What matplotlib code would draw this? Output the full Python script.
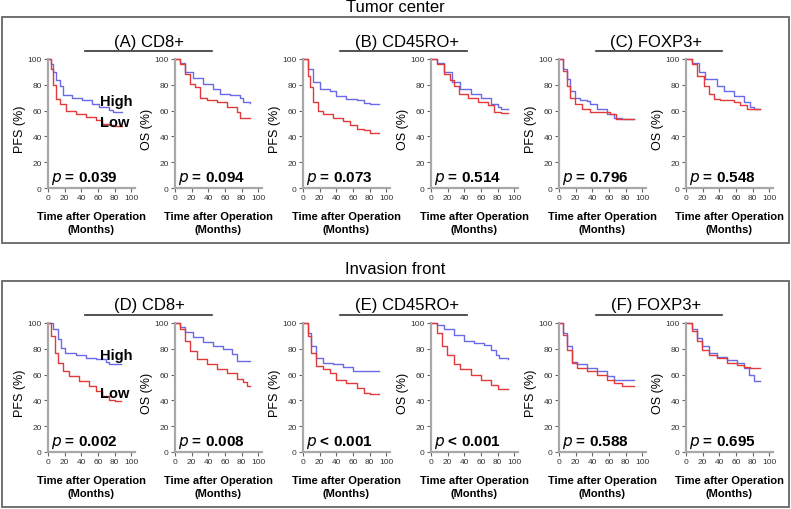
import matplotlib
matplotlib.use("Agg")
import matplotlib.pyplot as plt
from matplotlib.lines import Line2D
from matplotlib.patches import Rectangle

plt.rcParams['font.family'] = ['Liberation Sans', 'DejaVu Sans']

# Kaplan-Meier curves: (months, percent)
A_PFS_HIGH = [(0, 100), (3, 96), (6, 90), (10, 84), (14, 79), (18, 72), (29, 70), (41, 68), (53, 65), (61, 63), (73, 60.5), (78, 59), (89, 59)]
A_PFS_LOW = [(0, 100), (3, 92), (6, 80), (10, 69), (14, 65), (22, 60), (33, 57.5), (45, 55), (57, 53), (65, 50), (73, 48.5), (78, 47.7), (89, 47.7)]
A_OS_HIGH = [(0, 100), (6, 97), (12, 90), (22, 85), (34, 81), (46, 77), (54, 73), (66, 72), (78, 70), (82, 66.5), (90, 66)]
A_OS_LOW = [(0, 100), (6, 96), (12, 88.4), (18, 81), (24, 78), (30, 70), (38, 68), (50, 66.5), (62, 62.6), (74, 58.7), (78, 54.4), (90, 54.4)]

B_PFS_HIGH = [(0, 100), (6, 92), (12, 82), (20, 77), (32, 75), (40, 71.6), (52, 69), (65, 68), (73, 66), (80, 65), (91, 65)]
B_PFS_LOW = [(0, 100), (6, 87), (8, 78), (12, 66.5), (18, 60), (24, 57), (36, 54), (48, 52), (56, 48.5), (65, 46), (73, 44.6), (80, 43), (91, 43)]
B_OS_HIGH = [(0, 100), (7, 97), (15, 90), (25, 82), (35, 77), (48, 73), (60, 70), (72, 65), (80, 62.6), (84, 61), (92, 61)]
B_OS_LOW = [(0, 100), (7, 96), (15, 88), (23, 84), (27, 79), (33, 73), (44, 70), (56, 66.5), (68, 64), (76, 59), (84, 58), (92, 58)]

C_PFS_HIGH = [(0, 100), (5, 92), (9, 84.5), (13, 75.5), (19, 70), (25, 68.5), (33, 67.5), (37, 65), (45, 61), (57, 57), (66, 54.6), (75, 53.6), (90, 53.6)]
C_PFS_LOW = [(0, 100), (5, 91), (9, 79), (13, 70), (19, 65), (27, 61), (37, 58.8), (53, 58.8), (61, 57.5), (68, 53.6), (90, 53.6)]
C_OS_HIGH = [(0, 100), (7, 97), (15, 90), (23, 84.5), (31, 84.5), (37, 79), (45, 75.5), (57, 71.6), (69, 66.5), (77, 62.6), (81, 61), (89, 61)]
C_OS_LOW = [(0, 100), (7, 96), (13, 87), (21, 79), (27, 73), (33, 69), (41, 68), (57, 66.5), (65, 64), (73, 61), (89, 61)]

D_PFS_HIGH = [(0, 100), (6, 95), (12, 87.6), (16, 81), (20, 76.7), (33, 75), (45, 73), (57, 72), (69, 69.4), (73, 68), (88, 68)]
D_PFS_LOW = [(0, 100), (4, 90), (8, 77), (12, 69), (18, 63), (25, 59), (37, 55), (49, 51), (57, 47.4), (65, 43.5), (73, 40.4), (80, 39.6), (88, 39.6)]
D_OS_HIGH = [(0, 100), (6, 96.6), (12, 92.7), (22, 89), (34, 85), (46, 82), (58, 80), (68, 76), (74, 70.7), (90, 70.7)]
D_OS_LOW = [(0, 100), (6, 95), (12, 86), (18, 78.5), (26, 72), (38, 68), (50, 64), (62, 61), (74, 56.5), (82, 54), (86, 51), (90, 51)]

E_PFS_HIGH = [(0, 100), (6, 92), (10, 82), (16, 73), (24, 69), (36, 68), (48, 66), (60, 62.6), (91, 62.6)]
E_PFS_LOW = [(0, 100), (6, 90), (10, 77), (16, 66.5), (24, 64), (32, 61), (40, 56), (52, 53.6), (65, 50), (73, 46), (80, 44.6), (91, 44.6)]
E_OS_HIGH = [(0, 100), (7, 98.7), (15, 95), (27, 91), (40, 86), (52, 84.5), (64, 83), (72, 79), (78, 75.5), (82, 73), (92, 72)]
E_OS_LOW = [(0, 100), (7, 92), (13, 82), (19, 75.5), (27, 68), (35, 64), (48, 60), (60, 56), (72, 52), (80, 49), (92, 48.5)]

F_PFS_HIGH = [(0, 100), (5, 92), (9, 82), (15, 70), (21, 68), (33, 65), (45, 62.6), (57, 59), (66, 56), (90, 55.7)]
F_PFS_LOW = [(0, 100), (5, 91), (9, 79), (15, 69), (21, 65), (33, 62.6), (45, 60), (57, 56), (66, 53.6), (75, 51.5), (90, 51.5)]
F_OS_HIGH = [(0, 100), (7, 95), (13, 88), (19, 82), (27, 77), (37, 74), (49, 71.6), (61, 69), (69, 65), (75, 60), (81, 55), (89, 55)]
F_OS_LOW = [(0, 100), (7, 93.6), (13, 85.8), (19, 79), (27, 75.5), (37, 73), (49, 69), (61, 67.8), (69, 66), (77, 65), (89, 65)]

PANEL_TITLES = ["(A) CD8+", "(B) CD45RO+", "(C) FOXP3+", "(D) CD8+", "(E) CD45RO+", "(F) FOXP3+"]
SECTION_TITLES = ["Tumor center", "Invasion front"]
P_VALUES = [["p = 0.039", "p = 0.094", "p = 0.073", "p = 0.514", "p = 0.796", "p = 0.548"],
            ["p = 0.002", "p = 0.008", "p < 0.001", "p < 0.001", "p = 0.588", "p = 0.695"]]
Y_LABELS = ["PFS (%)", "OS (%)"]

curves = [[(A_PFS_HIGH, A_PFS_LOW), (A_OS_HIGH, A_OS_LOW), (B_PFS_HIGH, B_PFS_LOW),
           (B_OS_HIGH, B_OS_LOW), (C_PFS_HIGH, C_PFS_LOW), (C_OS_HIGH, C_OS_LOW)],
          [(D_PFS_HIGH, D_PFS_LOW), (D_OS_HIGH, D_OS_LOW), (E_PFS_HIGH, E_PFS_LOW),
           (E_OS_HIGH, E_OS_LOW), (F_PFS_HIGH, F_PFS_LOW), (F_OS_HIGH, F_OS_LOW)]]

W, H = 791, 510
fig = plt.figure(figsize=(W / 100, H / 100), dpi=100)


def fx(x):
    return x / W


def fy(y):
    return 1 - y / H


blue = '#6a6ae8'
red = '#e23a3a'
axis_gray = '#a8a8a8'

# boxes and section titles
for top, bot, ty, title in [(18, 244, 8, SECTION_TITLES[0]), (282, 508, 269, SECTION_TITLES[1])]:
    fig.patches.append(Rectangle((fx(1.5), fy(bot)), fx(787), (bot - top) / H, transform=fig.transFigure,
                                 fill=False, edgecolor='#666666', linewidth=1.3))
    fig.text(fx(395), fy(ty), title, ha='center', va='center', fontsize=12)

lefts = [48, 175, 303, 431, 559, 686]
tops = [60, 324]
title_x = [149, 407, 656]
lines_x = [(85, 212), (340, 467), (596, 722)]
ax_w = 86.8
ax_h = 129

for row in range(2):
    top = tops[row]
    for k in range(3):
        fig.text(fx(title_x[k]), fy(top - 18), PANEL_TITLES[row * 3 + k], ha='center', va='center', fontsize=12)
        fig.lines.append(Line2D([fx(lines_x[k][0]), fx(lines_x[k][1])], [fy(top - 8), fy(top - 8)],
                                transform=fig.transFigure, color='#333333', linewidth=1.2))
    for i in range(6):
        left = lefts[i]
        ax = fig.add_axes([fx(left), fy(top + ax_h), ax_w / W, ax_h / H])
        high, low = curves[row][i]
        ax.step([p[0] for p in high], [p[1] for p in high], where='post', color=blue, linewidth=1.0, clip_on=False)
        ax.step([p[0] for p in low], [p[1] for p in low], where='post', color=red, linewidth=1.0, clip_on=False)
        ax.set_xlim(0, 104)
        ax.set_ylim(0, 100)
        ax.set_xticks([0, 20, 40, 60, 80, 100])
        ax.set_yticks([0, 20, 40, 60, 80, 100])
        ax.spines['top'].set_visible(False)
        ax.spines['right'].set_visible(False)
        for s in ['left', 'bottom']:
            ax.spines[s].set_color(axis_gray)
            ax.spines[s].set_linewidth(1.6)
        ax.tick_params(axis='both', labelsize=6, colors='#666666', labelcolor='#333333',
                       length=3, width=0.8, pad=1.5)
        ax.patch.set_alpha(0)
        ax.text(-0.32, 0.46, Y_LABELS[i % 2], transform=ax.transAxes, rotation=90,
                ha='center', va='center', fontsize=9)
        ax.text(0.5, -0.22, "Time after Operation", transform=ax.transAxes,
                ha='center', va='center', fontsize=8, fontweight='bold')
        ax.text(0.5, -0.32, "(Months)", transform=ax.transAxes,
                ha='center', va='center', fontsize=8, fontweight='bold')
        pv = P_VALUES[row][i]
        ax.text(0.03, 0.085, "$\\bf{\\it{p}}$" + pv[1:], transform=ax.transAxes,
                ha='left', va='center', fontsize=11, fontweight='bold')
        if i == 0:
            hy, ly = (102, 123) if row == 0 else (356, 394)
            fig.text(fx(116), fy(hy), "High", ha='center', va='center', fontsize=10.5, fontweight='bold')
            fig.text(fx(115), fy(ly), "Low", ha='center', va='center', fontsize=10.5, fontweight='bold')

fig.savefig("out.png", dpi=100)
